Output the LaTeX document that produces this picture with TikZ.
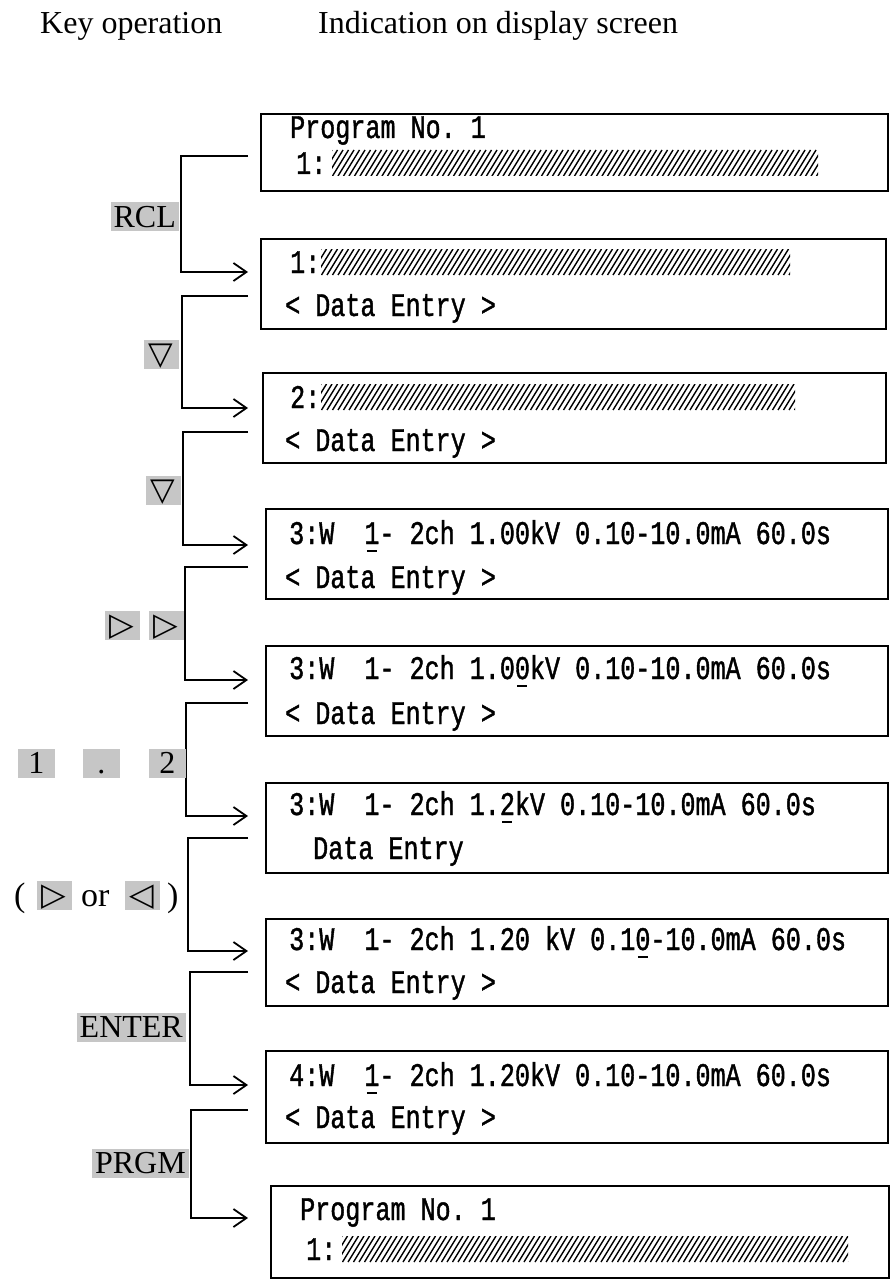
\documentclass[tikz,border=0pt]{standalone}
\usepackage{fontspec}
\setmainfont{Liberation Serif}
\newfontfamily\lcd[FakeStretch=0.76,FakeBold=1.2]{Liberation Mono}
\newfontfamily\symf{DejaVu Sans}
\usetikzlibrary{arrows.meta,calc}

\newcommand\ulc[1]{\rlap{\kern2.5pt\rule[-8pt]{10pt}{2.5pt}}#1}
\newcommand\hatchbar[4]{%
  \begin{scope}
    \clip (#1,#3) rectangle (#2,#4);
    \foreach \hx in {0,5.5,...,560}
      \draw[line width=1.4pt] ({#1+\hx-16},#4) -- ++(16,{#3-#4});
  \end{scope}}

\tikzset{
  screen/.style={draw,line width=1.8pt,anchor=north west,inner sep=0pt},
  conn/.style={line width=1.8pt,-{Straight Barb[length=13pt,width=18pt,line width=1.8pt]}},
  keycap/.style={fill=gray!45,inner xsep=3pt,inner ysep=4pt,anchor=east,
    font=\fontsize{32}{34}\selectfont,text height=21pt,text depth=0pt},
  symkey/.style={keycap,font=\symf\fontsize{32}{34}\selectfont,minimum width=35pt,
    inner xsep=0pt,text height=22pt,text depth=1pt,inner ysep=3pt},
  lcdtext/.style={anchor=base west,inner sep=0pt,font=\lcd\fontsize{33}{36}\selectfont},
  hdr/.style={anchor=base west,inner sep=0pt,font=\fontsize{32}{36}\selectfont},
  plain/.style={anchor=base west,inner sep=0pt,font=\fontsize{34}{36}\selectfont},
}

\begin{document}
\begin{tikzpicture}[x=1pt,y=-1pt]
\useasboundingbox (0,0) rectangle (890,1281);

% headers
\node[hdr] (hkey) at (40,34) {Key operation};
\node[hdr] (hind) at (318,34) {Indication on display screen};

% screens
\node[screen,minimum width=627pt,minimum height=77pt] (b1) at (260,113) {};
\node[screen,minimum width=625pt,minimum height=90pt] (b2) at (260,238) {};
\node[screen,minimum width=623pt,minimum height=90pt] (b3) at (262,372) {};
\node[screen,minimum width=622pt,minimum height=90pt] (b4) at (265,508) {};
\node[screen,minimum width=622pt,minimum height=90pt] (b5) at (265,645) {};
\node[screen,minimum width=622pt,minimum height=90pt] (b6) at (265,782) {};
\node[screen,minimum width=622pt,minimum height=87pt] (b7) at (265,918) {};
\node[screen,minimum width=622pt,minimum height=92pt] (b8) at (265,1050) {};
\node[screen,minimum width=618pt,minimum height=92pt] (b9) at (270,1185) {};

% screen texts
\node[lcdtext] (t1a) at (290,138) {Program No.\ 1};
\node[lcdtext] (t1b) at (296,174) {1:};
\hatchbar{332}{818}{150}{176}

\node[lcdtext] (t2a) at (290,273) {1:};
\hatchbar{321}{790}{249}{275}
\node[lcdtext] (t2b) at (285,316) {<\ Data\ Entry\ >};

\node[lcdtext] (t3a) at (290,408) {2:};
\hatchbar{321}{795}{384}{410}
\node[lcdtext] (t3b) at (285,451) {<\ Data\ Entry\ >};

\node[lcdtext] (t4a) at (289,544) {3:W\ \ \ulc{1}-\ 2ch\ 1.00kV\ 0.10-10.0mA\ 60.0s};
\node[lcdtext] (t4b) at (285,588) {<\ Data\ Entry\ >};

\node[lcdtext] (t5a) at (289,679) {3:W\ \ 1-\ 2ch\ 1.0\ulc{0}kV\ 0.10-10.0mA\ 60.0s};
\node[lcdtext] (t5b) at (285,724) {<\ Data\ Entry\ >};

\node[lcdtext] (t6a) at (289,815) {3:W\ \ 1-\ 2ch\ 1.\ulc{2}kV\ 0.10-10.0mA\ 60.0s};
\node[lcdtext] (t6b) at (313,859) {Data\ Entry};

\node[lcdtext] (t7a) at (289,950) {3:W\ \ 1-\ 2ch\ 1.20\ kV\ 0.1\ulc{0}-10.0mA\ 60.0s};
\node[lcdtext] (t7b) at (285,993) {<\ Data\ Entry\ >};

\node[lcdtext] (t8a) at (289,1086) {4:W\ \ \ulc{1}-\ 2ch\ 1.20kV\ 0.10-10.0mA\ 60.0s};
\node[lcdtext] (t8b) at (285,1128) {<\ Data\ Entry\ >};

\node[lcdtext] (t9a) at (300,1220) {Program No.\ 1};
\node[lcdtext] (t9b) at (306,1260) {1:};
\hatchbar{342}{848}{1236}{1262}

% connector end points
\coordinate (o1) at (248,156);  \coordinate (i2) at (248,272);
\coordinate (o2) at (248,296);  \coordinate (i3) at (248,408);
\coordinate (o3) at (248,432);  \coordinate (i4) at (248,545);
\coordinate (o4) at (248,567);  \coordinate (i5) at (248,680);
\coordinate (o5) at (248,703);  \coordinate (i6) at (248,816);
\coordinate (o6) at (248,838);  \coordinate (i7) at (248,951);
\coordinate (o7) at (248,972);  \coordinate (i8) at (248,1085);
\coordinate (o8) at (248,1110); \coordinate (i9) at (248,1218);

\draw[conn] (o1) -- ++(-67,0) |- (i2);
\draw[conn] (o2) -- ++(-66,0) |- (i3);
\draw[conn] (o3) -- ++(-65,0) |- (i4);
\draw[conn] (o4) -- ++(-63,0) |- (i5);
\draw[conn] (o5) -- ++(-62,0) |- (i6);
\draw[conn] (o6) -- ++(-60,0) |- (i7);
\draw[conn] (o7) -- ++(-58,0) |- (i8);
\draw[conn] (o8) -- ++(-57,0) |- (i9);

% keys
\node[keycap] (kRCL) at (179,217) {RCL};
\node[symkey] (kdn1) at (179,354) {▽};
\node[symkey] (kdn2) at (181,490) {▽};
\node[symkey] (krt1) at (140,625) {▷};
\node[symkey] (krt2) at (184,625) {▷};
\node[keycap,minimum width=37pt] (k1) at (55,763) {1};
\node[keycap,minimum width=37pt] (kdot) at (120,763) {.};
\node[keycap,minimum width=37pt] (k2) at (186,763) {2};
\node[plain] (lpar) at (14,906) {(};
\node[symkey] (krt3) at (72,895) {▷};
\node[plain] (kor) at (81,906) {or};
\node[symkey] (klt) at (160,895) {◁};
\node[plain] (rpar) at (167,906) {)};
\node[keycap] (kENT) at (186,1027) {ENTER};
\node[keycap] (kPRG) at (189,1163) {PRGM};
\end{tikzpicture}
\end{document}
